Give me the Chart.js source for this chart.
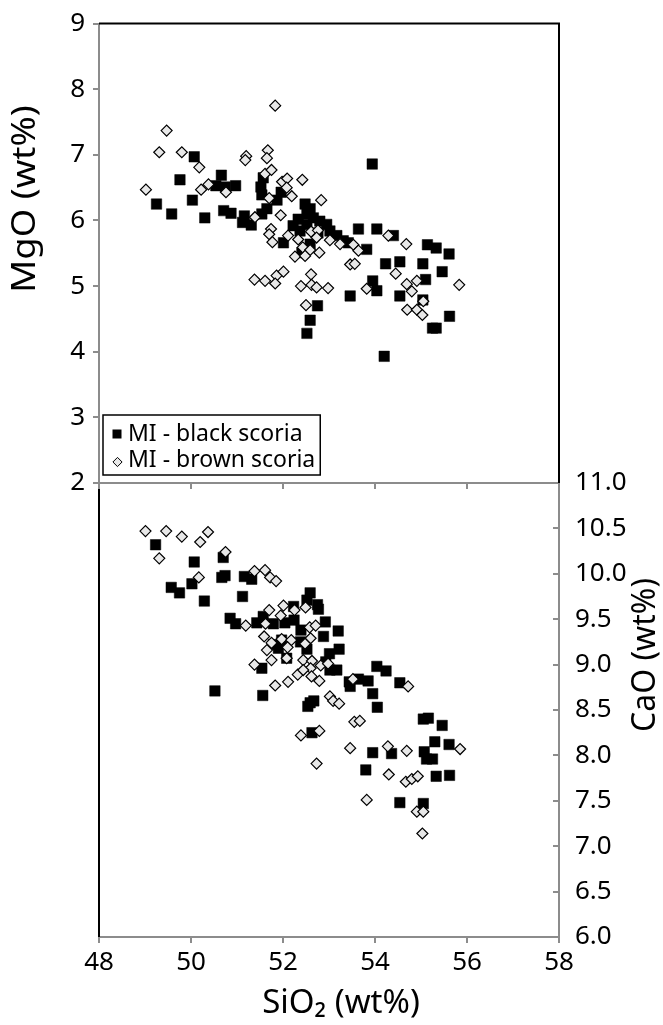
<!DOCTYPE html>
<html>
<head>
<meta charset="utf-8">
<script src="https://cdn.jsdelivr.net/npm/chart.js@4.4.1/dist/chart.umd.min.js"></script>
<style>
  html, body { margin: 0; padding: 0; background: #fff; }
  #wrap { position: relative; width: 663px; height: 1025px; }
  #wrap canvas { position: absolute; left: 0; top: 0; }
</style>
</head>
<body>
<div id="wrap">
  <canvas id="caChart" width="663" height="1025"></canvas>
  <canvas id="mgChart" width="663" height="1025"></canvas>
</div>
<script>
// MgO vs SiO2 (upper panel)
const blackMgSiO2 = [49.25, 49.58, 49.76, 50.07, 50.03, 50.30, 50.54, 50.66, 50.75, 50.97, 50.71, 50.87, 51.16, 51.12, 51.31, 51.57, 51.52, 51.54, 51.96, 51.87, 51.54, 51.65, 52.48, 52.52, 52.66, 52.80, 52.95, 52.22, 52.37, 52.52, 53.02, 53.17, 53.31, 53.42, 52.01, 52.59, 52.41, 52.33, 52.76, 52.59, 53.64, 54.04, 54.40, 53.82, 53.94, 55.14, 55.33, 55.61, 54.23, 54.54, 55.04, 55.46, 55.10, 53.95, 54.04, 53.46, 54.54, 55.04, 52.75, 52.59, 52.52, 55.62, 55.25, 55.33, 54.20];
const blackMgO = [6.25, 6.10, 6.62, 6.97, 6.31, 6.04, 6.53, 6.69, 6.51, 6.53, 6.15, 6.11, 6.07, 5.97, 5.93, 6.65, 6.51, 6.39, 6.43, 6.31, 6.10, 6.18, 6.25, 6.10, 6.04, 5.99, 5.94, 5.92, 5.84, 5.94, 5.84, 5.77, 5.69, 5.66, 5.66, 5.64, 5.51, 6.02, 5.81, 6.18, 5.87, 5.87, 5.77, 5.56, 6.86, 5.63, 5.58, 5.49, 5.34, 5.37, 5.34, 5.22, 5.10, 5.08, 4.93, 4.85, 4.85, 4.79, 4.70, 4.48, 4.28, 4.54, 4.36, 4.36, 3.93];
const brownMgSiO2 = [51.83, 49.47, 49.31, 49.80, 50.18, 49.02, 50.22, 50.38, 50.76, 51.20, 51.18, 51.67, 51.65, 51.61, 51.75, 51.98, 52.09, 52.08, 52.19, 52.42, 51.70, 52.83, 51.39, 51.95, 51.74, 51.70, 51.77, 52.11, 52.33, 52.61, 52.76, 52.73, 53.02, 53.24, 53.53, 53.64, 52.26, 52.43, 52.59, 52.79, 52.48, 54.29, 54.68, 53.46, 53.56, 54.45, 53.82, 54.69, 54.80, 54.91, 55.83, 55.05, 54.70, 54.91, 55.03, 51.38, 51.61, 51.86, 52.01, 51.83, 52.61, 52.39, 52.62, 52.73, 52.98, 52.50];
const brownMgO = [7.75, 7.37, 7.04, 7.04, 6.81, 6.47, 6.47, 6.55, 6.43, 6.98, 6.92, 7.07, 6.95, 6.71, 6.77, 6.59, 6.64, 6.50, 6.37, 6.62, 6.34, 6.31, 6.05, 6.08, 5.87, 5.79, 5.67, 5.77, 5.71, 5.83, 5.85, 5.74, 5.70, 5.64, 5.63, 5.54, 5.45, 5.59, 5.55, 5.51, 5.46, 5.77, 5.64, 5.33, 5.34, 5.19, 4.96, 5.03, 4.92, 5.08, 5.02, 4.77, 4.64, 4.64, 4.56, 5.10, 5.08, 5.16, 5.22, 5.04, 5.18, 5.00, 5.02, 4.98, 4.97, 4.71];

// CaO vs SiO2 (lower panel)
const blackCaSiO2 = [49.23, 50.07, 50.70, 49.57, 49.75, 50.02, 50.29, 50.67, 50.74, 51.16, 51.32, 51.12, 50.85, 50.97, 50.52, 51.56, 51.43, 51.57, 51.79, 52.04, 52.23, 52.24, 52.59, 52.52, 52.75, 52.77, 52.39, 52.38, 52.52, 52.92, 52.88, 53.20, 53.22, 53.01, 52.93, 53.02, 53.17, 51.97, 52.08, 51.79, 51.90, 51.54, 52.59, 52.67, 52.54, 53.44, 53.46, 53.64, 53.85, 54.04, 54.24, 53.95, 54.05, 54.54, 52.63, 53.95, 54.36, 53.80, 55.05, 55.16, 55.46, 55.30, 55.61, 55.07, 55.12, 55.25, 55.33, 55.62, 54.54, 55.05];
const blackCaO = [10.32, 10.13, 10.18, 9.85, 9.79, 9.89, 9.70, 9.96, 9.98, 9.97, 9.94, 9.75, 9.51, 9.45, 8.71, 8.66, 9.46, 9.53, 9.45, 9.46, 9.64, 9.49, 9.79, 9.71, 9.66, 9.61, 9.38, 9.25, 9.17, 9.47, 9.31, 9.37, 9.17, 9.12, 9.03, 8.94, 8.94, 9.27, 9.07, 9.22, 9.18, 8.96, 8.58, 8.60, 8.54, 8.81, 8.76, 8.84, 8.82, 8.98, 8.93, 8.68, 8.53, 8.80, 8.25, 8.03, 8.02, 7.84, 8.40, 8.41, 8.33, 8.15, 8.12, 8.04, 7.96, 7.96, 7.77, 7.78, 7.48, 7.47];
const brownCaSiO2 = [49.01, 49.46, 49.80, 50.20, 50.37, 49.31, 50.75, 50.17, 51.38, 51.61, 51.72, 51.85, 51.19, 51.70, 52.01, 52.25, 52.49, 51.95, 51.62, 51.59, 51.75, 51.65, 51.75, 51.97, 52.18, 52.10, 52.08, 52.58, 52.71, 52.60, 52.48, 51.38, 52.44, 52.63, 52.60, 52.82, 52.98, 52.32, 52.44, 52.62, 52.79, 51.83, 52.11, 53.52, 53.02, 53.09, 53.22, 54.72, 53.55, 53.67, 52.39, 52.79, 53.46, 52.73, 54.28, 54.69, 55.85, 54.30, 54.67, 54.80, 54.93, 53.82, 54.91, 55.05, 55.03];
const brownCaO = [10.47, 10.47, 10.41, 10.35, 10.46, 10.17, 10.24, 9.96, 10.03, 10.04, 9.96, 9.92, 9.43, 9.60, 9.65, 9.60, 9.63, 9.54, 9.45, 9.31, 9.24, 9.16, 9.05, 9.28, 9.27, 9.19, 9.07, 9.41, 9.43, 9.29, 9.23, 9.00, 9.05, 9.04, 8.96, 8.99, 9.01, 8.89, 8.94, 8.87, 8.82, 8.77, 8.81, 8.84, 8.65, 8.60, 8.57, 8.76, 8.37, 8.38, 8.22, 8.27, 8.08, 7.91, 8.10, 8.05, 8.07, 7.79, 7.71, 7.74, 7.77, 7.51, 7.38, 7.38, 7.14];

const seriesNames = ['MI - black scoria', 'MI - brown scoria'];
const axisTitles = { mg: 'MgO (wt%)', ca: 'CaO (wt%)', si: 'SiO\u2082 (wt%)' };

const FONT = "'Noto Sans', sans-serif";
const GREY = '#8c8c8c';
const DIAMOND_FILL = '#e8e8e8';

const toPoints = (xs, ys) => xs.map((x, i) => ({ x: x, y: ys[i] }));

function blackSet(data) {
    return {
        label: seriesNames[0], data: data, order: 2,
        pointStyle: 'rect', pointRadius: 7.4,
        pointBackgroundColor: '#000', pointBorderColor: '#000', pointBorderWidth: 0.5,
    };
}
function brownSet(data) {
    return {
        label: seriesNames[1], data: data, order: 1,
        pointStyle: 'rectRot', pointRadius: 5.5,
        pointBackgroundColor: DIAMOND_FILL, pointBorderColor: '#000', pointBorderWidth: 1.2,
    };
}

const axisGrid = len => ({ drawOnChartArea: false, drawTicks: true, tickLength: len, color: GREY, lineWidth: 2 });
const axisBorder = { color: GREY, width: 2 };
const tickFont = { family: FONT, size: 26 };

// rotated title, reading upwards; stretch lengthens the text like the original
function drawVerticalTitle(ctx, text, x, y, stretch) {
    ctx.save();
    ctx.translate(x, y);
    ctx.rotate(-Math.PI / 2);
    ctx.scale(stretch, 1);
    ctx.fillStyle = '#000';
    ctx.font = `32px ${FONT}`;
    ctx.textAlign = 'center';
    ctx.textBaseline = 'alphabetic';
    ctx.fillText(text, 0, 0);
    ctx.restore();
}

// frame lines, MgO title and the boxed legend of the upper panel
const mgDecor = {
    id: 'mgDecor',
    afterDraw(chart) {
        const { ctx, chartArea: a } = chart;
        ctx.save();
        ctx.strokeStyle = '#000';
        ctx.lineWidth = 2;
        ctx.beginPath();
        ctx.moveTo(a.left, a.top);
        ctx.lineTo(a.right, a.top);
        ctx.lineTo(a.right, a.bottom);
        ctx.stroke();
        ctx.restore();

        drawVerticalTitle(ctx, axisTitles.mg, 35, 199, 1.14);

        // legend box
        ctx.save();
        ctx.font = `23px ${FONT}`;
        const w = Math.max(...seriesNames.map(t => ctx.measureText(t).width));
        const bx = a.left + 4, by = a.bottom - 68, bw = w + 30, bh = 60;
        ctx.fillStyle = '#fff';
        ctx.fillRect(bx, by, bw, bh);
        ctx.strokeStyle = '#000';
        ctx.lineWidth = 1.5;
        ctx.strokeRect(bx, by, bw, bh);
        const rows = [by + 19, by + 45];
        // square marker
        ctx.fillStyle = '#000';
        ctx.fillRect(bx + 9.5, rows[0] - 4.5, 9, 9);
        // diamond marker
        const dx = bx + 14.5, dy = rows[1] + 2;
        ctx.beginPath();
        ctx.moveTo(dx - 4.6, dy); ctx.lineTo(dx, dy - 4.6); ctx.lineTo(dx + 4.6, dy); ctx.lineTo(dx, dy + 4.6);
        ctx.closePath();
        ctx.fillStyle = DIAMOND_FILL;
        ctx.fill();
        ctx.lineWidth = 1;
        ctx.stroke();
        ctx.fillStyle = '#000';
        ctx.textAlign = 'left';
        ctx.textBaseline = 'middle';
        seriesNames.forEach((t, i) => ctx.fillText(t, bx + 25, rows[i]));
        ctx.restore();
    }
};

// left frame line, CaO and SiO2 titles of the lower panel
const caDecor = {
    id: 'caDecor',
    afterDraw(chart) {
        const { ctx, chartArea: a } = chart;
        ctx.save();
        ctx.strokeStyle = '#000';
        ctx.lineWidth = 2;
        ctx.beginPath();
        ctx.moveTo(a.left, a.top);
        ctx.lineTo(a.left, a.bottom);
        ctx.stroke();
        ctx.restore();

        drawVerticalTitle(ctx, axisTitles.ca, 655, 655, 1);

        ctx.save();
        ctx.fillStyle = '#000';
        ctx.font = `33px ${FONT}`;
        ctx.textAlign = 'center';
        ctx.textBaseline = 'alphabetic';
        ctx.fillText(axisTitles.si, 341, 1013);
        ctx.restore();
    }
};

const common = {
    responsive: false,
    animation: false,
    events: [],
};

new Chart(document.getElementById('mgChart'), {
    type: 'scatter',
    data: {
        datasets: [blackSet(toPoints(blackMgSiO2, blackMgO)), brownSet(toPoints(brownMgSiO2, brownMgO))]
    },
    options: {
        ...common,
        layout: { padding: { left: 0, top: 22, right: 104, bottom: 1025 - 483 - 10 } },
        plugins: { legend: { display: false }, tooltip: { enabled: false } },
        scales: {
            x: {
                type: 'linear', min: 48, max: 58,
                ticks: { stepSize: 2, display: false },
                grid: axisGrid(6), border: axisBorder,
                afterFit: s => { s.height = 10; }
            },
            y: {
                type: 'linear', min: 2, max: 9,
                ticks: { stepSize: 1, color: '#000', font: tickFont, padding: 8 },
                grid: axisGrid(6), border: axisBorder,
                afterFit: s => { s.width = 99; }
            }
        }
    },
    plugins: [mgDecor]
});

new Chart(document.getElementById('caChart'), {
    type: 'scatter',
    data: {
        datasets: [blackSet(toPoints(blackCaSiO2, blackCaO)), brownSet(toPoints(brownCaSiO2, brownCaO))]
    },
    options: {
        ...common,
        layout: { padding: { left: 99, top: 483, right: 0, bottom: 0 } },
        plugins: { legend: { display: false }, tooltip: { enabled: false } },
        scales: {
            x: {
                type: 'linear', min: 48, max: 58,
                ticks: { stepSize: 2, color: '#000', font: tickFont, padding: 4 },
                grid: axisGrid(6), border: axisBorder,
                afterFit: s => { s.height = 88; }
            },
            y: {
                type: 'linear', position: 'right', min: 6, max: 11,
                ticks: { stepSize: 0.5, color: '#000', font: tickFont, padding: 22, callback: v => v.toFixed(1) },
                grid: axisGrid(-6), border: axisBorder,
                afterFit: s => { s.width = 104; }
            }
        }
    },
    plugins: [caDecor]
});
</script>
</body>
</html>
